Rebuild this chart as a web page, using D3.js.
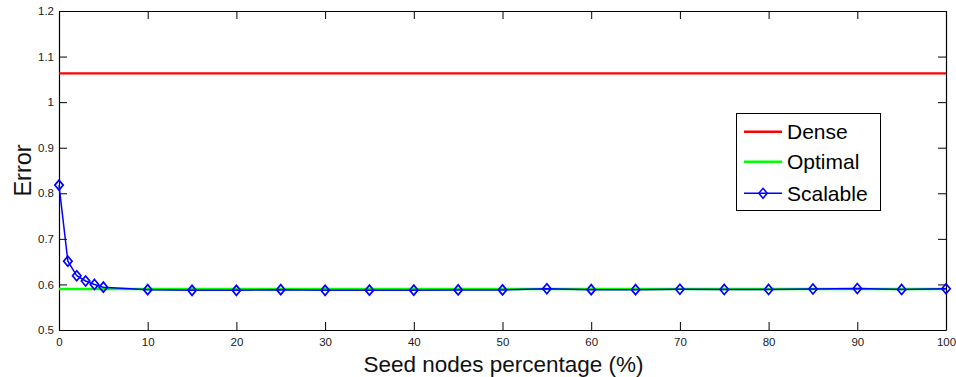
<!DOCTYPE html>
<html>
<head>
<meta charset="utf-8">
<script src="https://cdn.jsdelivr.net/npm/d3@7"></script>
<style>
  html, body { margin: 0; padding: 0; background: #fff; }
  svg { display: block; font-family: "Liberation Sans", Arial, Helvetica, sans-serif; }
</style>
</head>
<body>
<svg id="chart" width="956" height="377"></svg>
<script>
// Error vs. seed nodes percentage for three methods
const xScalable = [0, 1, 2, 3, 4, 5, 10, 15, 20, 25, 30, 35, 40, 45, 50, 55, 60, 65, 70, 75, 80, 85, 90, 95, 100];
const scalable  = [0.818, 0.651, 0.619, 0.6075, 0.600, 0.594, 0.5885, 0.587, 0.587, 0.5885, 0.587, 0.5875, 0.5875,
                   0.588, 0.588, 0.5905, 0.5885, 0.5885, 0.5895, 0.589, 0.589, 0.590, 0.591, 0.589, 0.5905];
const xFlat   = [0, 100];
const dense   = [1.063, 1.063];
const optimal = [0.590, 0.590];

const xTicks = [0, 10, 20, 30, 40, 50, 60, 70, 80, 90, 100];
const yTicks = [0.5, 0.6, 0.7, 0.8, 0.9, 1.0, 1.1, 1.2];
const yTickLabels = ["0.5", "0.6", "0.7", "0.8", "0.9", "1", "1.1", "1.2"];

const seriesNames = ["Dense", "Optimal", "Scalable"];
const seriesColors = ["#ff0000", "#00ff00", "#0000ff"];

const svg = d3.select("#chart");
const plotLeft = 59, plotRight = 946, plotTop = 11, plotBottom = 330;

const x = d3.scaleLinear().domain([0, 100]).range([plotLeft, plotRight]);
const y = d3.scaleLinear().domain([0.5, 1.2]).range([plotBottom, plotTop]);

// plot background
svg.append("rect")
  .attr("x", plotLeft).attr("y", plotTop)
  .attr("width", plotRight - plotLeft).attr("height", plotBottom - plotTop)
  .attr("fill", "#fff");

// axes with inward ticks on all four sides
const tickFont = g => g.selectAll("text")
  .attr("font-size", 11.5).attr("fill", "#1a1a1a")
  .attr("font-family", "'Liberation Sans', Arial, Helvetica, sans-serif");

svg.append("g")
  .attr("transform", `translate(0,${plotBottom})`)
  .call(d3.axisBottom(x).tickValues(xTicks).tickSizeInner(-8).tickSizeOuter(0).tickPadding(8))
  .call(tickFont);

svg.append("g")
  .attr("transform", `translate(${plotLeft},0)`)
  .call(d3.axisLeft(y).tickValues(yTicks).tickFormat((d, i) => yTickLabels[i])
        .tickSizeInner(-8).tickSizeOuter(0).tickPadding(5))
  .call(tickFont);

svg.append("g")
  .attr("transform", `translate(0,${plotTop})`)
  .call(d3.axisTop(x).tickValues(xTicks).tickSizeInner(-8).tickSizeOuter(0).tickFormat(""));

svg.append("g")
  .attr("transform", `translate(${plotRight},0)`)
  .call(d3.axisRight(y).tickValues(yTicks).tickSizeInner(-8).tickSizeOuter(0).tickFormat(""));

svg.selectAll(".domain").attr("stroke", "#000").attr("stroke-width", 1.2);
svg.selectAll(".tick line").attr("stroke", "#000");

// series lines
const line = d3.line().x(d => x(d[0])).y(d => y(d[1]));

svg.append("path")
  .datum(xFlat.map((v, i) => [v, dense[i]]))
  .attr("d", line).attr("fill", "none")
  .attr("stroke", seriesColors[0]).attr("stroke-width", 2.2);

svg.append("path")
  .datum(xFlat.map((v, i) => [v, optimal[i]]))
  .attr("d", line).attr("fill", "none")
  .attr("stroke", seriesColors[1]).attr("stroke-width", 2.6);

const scalablePts = xScalable.map((v, i) => [v, scalable[i]]);
svg.append("path")
  .datum(scalablePts)
  .attr("d", line).attr("fill", "none")
  .attr("stroke", seriesColors[2]).attr("stroke-width", 1.5);

const diamond = "M0,-5L4.2,0L0,5L-4.2,0Z";
svg.append("g").selectAll("path")
  .data(scalablePts)
  .join("path")
  .attr("transform", d => `translate(${x(d[0])},${y(d[1])})`)
  .attr("d", diamond)
  .attr("fill", "none")
  .attr("stroke", seriesColors[2]).attr("stroke-width", 1.7);

// axis titles
svg.append("text")
  .attr("x", (plotLeft + plotRight) / 2 + 1).attr("y", 372)
  .attr("text-anchor", "middle").attr("font-size", 22.5).attr("fill", "#111")
  .text("Seed nodes percentage (%)");

svg.append("text")
  .attr("transform", `translate(31,${(plotTop + plotBottom) / 2}) rotate(-90)`)
  .attr("text-anchor", "middle").attr("font-size", 23.5).attr("fill", "#111")
  .text("Error");

// legend
const legend = svg.append("g");
legend.append("rect")
  .attr("x", 736.5).attr("y", 113.5).attr("width", 144).attr("height", 97)
  .attr("fill", "#fff").attr("stroke", "#000").attr("stroke-width", 1);

const rowY = [131.7, 161.7, 193.3];
seriesNames.forEach((name, i) => {
  legend.append("line")
    .attr("x1", 744).attr("x2", 782).attr("y1", rowY[i]).attr("y2", rowY[i])
    .attr("stroke", seriesColors[i]).attr("stroke-width", i === 2 ? 1.5 : 2.4);
  if (i === 2) {
    legend.append("path")
      .attr("transform", `translate(763,${rowY[i]})`)
      .attr("d", diamond).attr("fill", "none")
      .attr("stroke", seriesColors[i]).attr("stroke-width", 1.5);
  }
  legend.append("text")
    .attr("x", 787).attr("y", rowY[i]).attr("dy", "0.36em")
    .attr("font-size", 21).attr("fill", "#000")
    .text(name);
});
</script>
</body>
</html>
